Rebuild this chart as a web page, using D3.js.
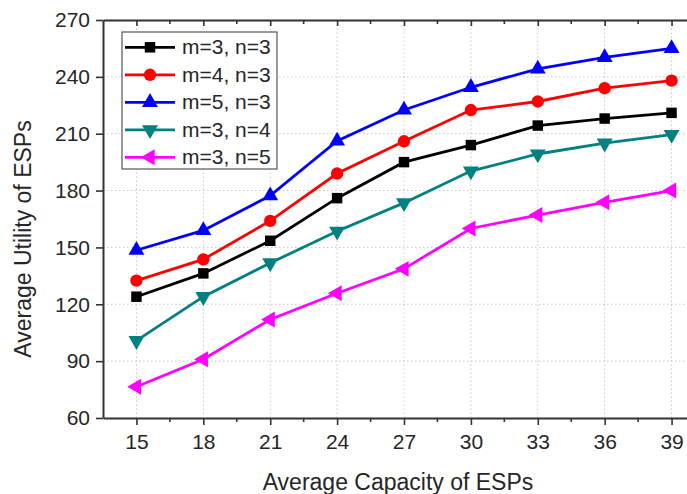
<!DOCTYPE html>
<html>
<head>
<meta charset="utf-8">
<script src="https://cdn.jsdelivr.net/npm/d3@7"></script>
<style>
  body { margin: 0; background: #fff; }
  text { font-family: "Liberation Sans", Arial, sans-serif; fill: #262626; }
</style>
</head>
<body>
<div id="chart"></div>
<script>
// data
const capacity = [15, 18, 21, 24, 27, 30, 33, 36, 39];
const yTicks = [60, 90, 120, 150, 180, 210, 240, 270];
const seriesNames = ["m=3, n=3", "m=4, n=3", "m=5, n=3", "m=3, n=4", "m=3, n=5"];
const m3n3 = [124, 136.3, 153.5, 176, 195, 204, 214.3, 218, 221];
const m4n3 = [132.5, 143.7, 164, 189, 206, 222.5, 227, 234, 238];
const m5n3 = [148.5, 159, 177.3, 206.2, 222.5, 234.5, 244.2, 250.3, 255];
const m3n4 = [100.8, 124, 141.8, 158.5, 173.5, 190.3, 199.3, 205, 209.5];
const m3n5 = [76.5, 91, 112, 125.8, 138.7, 160, 167.1, 173.8, 180];

const width = 687, height = 494;
const svg = d3.select("#chart").append("svg")
  .attr("width", width)
  .attr("height", height);

const x = d3.scaleLinear().domain([13.5, 40.5]).range([103, 705]);
const y = d3.scaleLinear().domain([60, 270]).range([418, 20]);

const series = [
  { name: seriesNames[0], values: m3n3, color: "#000000", sym: d3.symbolSquare, size: 110, rot: 0 },
  { name: seriesNames[1], values: m4n3, color: "#ff0000", sym: d3.symbolCircle, size: 120, rot: 0 },
  { name: seriesNames[2], values: m5n3, color: "#0000ff", sym: d3.symbolTriangle, size: 110, rot: 0 },
  { name: seriesNames[3], values: m3n4, color: "#008080", sym: d3.symbolTriangle, size: 110, rot: 180 },
  { name: seriesNames[4], values: m3n5, color: "#ff00ff", sym: d3.symbolTriangle, size: 110, rot: -90 }
];

// grid
const grid = svg.append("g")
  .attr("stroke", "#c8c8c8")
  .attr("stroke-width", 1)
  .attr("stroke-dasharray", "1.5,2.5");
grid.selectAll("line.v").data(capacity).enter().append("line")
  .attr("x1", d => x(d)).attr("x2", d => x(d))
  .attr("y1", y(60)).attr("y2", y(270));
grid.selectAll("line.h").data(yTicks.slice(1, -1)).enter().append("line")
  .attr("x1", x(13.5)).attr("x2", x(40.5))
  .attr("y1", d => y(d)).attr("y2", d => y(d));

// axes
const minor = d3.range(16.5, 40.5, 3);
const axisColor = "#333";

function styleAxis(g) {
  g.select(".domain").attr("stroke", axisColor).attr("stroke-width", 2);
  g.selectAll(".tick line").attr("stroke", axisColor).attr("stroke-width", 1.6);
  g.selectAll(".tick text")
    .attr("font-size", 21)
    .attr("font-family", "Liberation Sans, Arial, sans-serif")
    .attr("fill", "#262626");
}

const xAxis = svg.append("g")
  .attr("transform", `translate(0,${y(60)})`)
  .call(d3.axisBottom(x).tickValues(capacity).tickSize(7).tickSizeOuter(0).tickPadding(9));
styleAxis(xAxis);
xAxis.selectAll(".minor").data(minor).enter().append("line")
  .attr("x1", d => x(d)).attr("x2", d => x(d))
  .attr("y1", 0).attr("y2", 4)
  .attr("stroke", axisColor).attr("stroke-width", 1.6);

const xTop = svg.append("g")
  .attr("transform", `translate(0,${y(270)})`)
  .call(d3.axisTop(x).tickValues(capacity).tickSize(-6).tickSizeOuter(0).tickFormat(""));
styleAxis(xTop);
xTop.selectAll(".minor").data(minor).enter().append("line")
  .attr("x1", d => x(d)).attr("x2", d => x(d))
  .attr("y1", 0).attr("y2", 4)
  .attr("stroke", axisColor).attr("stroke-width", 1.6);

const yAxis = svg.append("g")
  .attr("transform", `translate(${x(13.5)},0)`)
  .call(d3.axisLeft(y).tickValues(yTicks).tickSize(7).tickSizeOuter(0).tickPadding(6));
styleAxis(yAxis);

const yRight = svg.append("g")
  .attr("transform", `translate(${x(40.5)},0)`)
  .call(d3.axisRight(y).tickValues(yTicks).tickSize(-6).tickSizeOuter(0).tickFormat(""));
styleAxis(yRight);

// titles
svg.append("text")
  .attr("x", 398).attr("y", 490)
  .attr("text-anchor", "middle")
  .attr("font-size", 23)
  .text("Average Capacity of ESPs");
svg.append("text")
  .attr("transform", "translate(31,239) rotate(-90)")
  .attr("text-anchor", "middle")
  .attr("font-size", 23)
  .text("Average Utility of ESPs");

// lines and markers
const line = d3.line()
  .x((d, i) => x(capacity[i]))
  .y(d => y(d));

const plot = svg.append("g");
series.forEach(s => {
  plot.append("path")
    .datum(s.values)
    .attr("d", line)
    .attr("fill", "none")
    .attr("stroke", s.color)
    .attr("stroke-width", 2.8);
  plot.selectAll(null).data(s.values).enter().append("path")
    .attr("d", d3.symbol().type(s.sym).size(s.size))
    .attr("transform", (d, i) => `translate(${x(capacity[i])},${y(d)}) rotate(${s.rot})`)
    .attr("fill", s.color);
});

// legend
const legend = svg.append("g").attr("transform", "translate(122,32)");
legend.append("rect")
  .attr("width", 155).attr("height", 137)
  .attr("fill", "#fff")
  .attr("stroke", "#555")
  .attr("stroke-width", 1.2);
const rows = legend.selectAll("g.row").data(series).enter().append("g")
  .attr("transform", (d, i) => `translate(0,${15.3 + i * 27.5})`);
rows.append("line")
  .attr("x1", 3).attr("x2", 53)
  .attr("stroke", d => d.color)
  .attr("stroke-width", 2.8);
rows.append("path")
  .attr("d", d => d3.symbol().type(d.sym).size(d.size)())
  .attr("transform", d => `translate(28,0) rotate(${d.rot})`)
  .attr("fill", d => d.color);
rows.append("text")
  .attr("x", 60).attr("y", 7)
  .attr("font-size", 21)
  .text(d => d.name);
</script>
</body>
</html>
